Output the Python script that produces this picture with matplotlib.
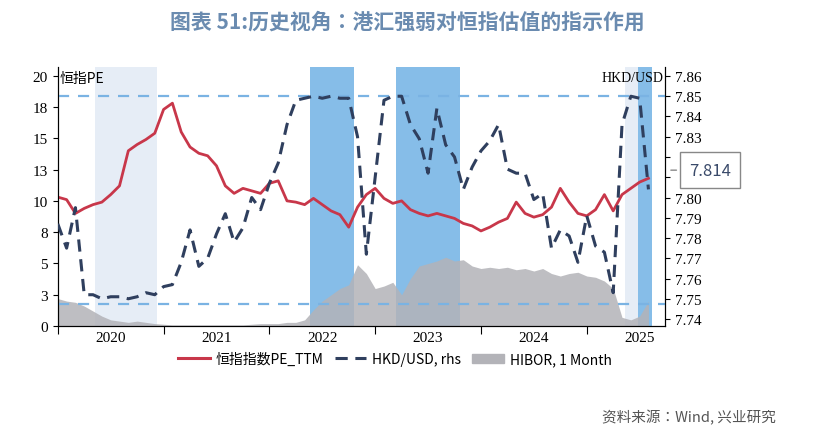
import matplotlib
matplotlib.use("Agg")
import matplotlib.pyplot as plt
from matplotlib import font_manager
from matplotlib.lines import Line2D
from matplotlib.patches import Patch

cands = ["Noto Sans CJK SC", "Noto Sans CJK JP", "Noto Sans CJK TC", "Noto Sans CJK KR"]
avail = {f.name for f in font_manager.fontManager.ttflist}
cjk = [c for c in cands if c in avail]
if not cjk:
    for f in font_manager.findSystemFonts():
        if "cjk" in f.lower():
            font_manager.fontManager.addfont(f)
    avail = {f.name for f in font_manager.fontManager.ttflist}
    cjk = [c for c in avail if "CJK" in c]
plt.rcParams["font.family"] = "sans-serif"
plt.rcParams["font.sans-serif"] = cjk + ["DejaVu Sans"]

# monthly data, Jan 2020 .. Aug 2025
months = [2020 + i / 12 for i in range(68)]
pe = [10.3,10.1,9.0,9.4,9.7,9.9,10.5,11.2,14.0,14.5,14.9,15.4,
      17.3,17.8,15.5,14.3,13.8,13.6,12.8,11.2,10.6,11.0,10.8,10.6,
      11.4,11.6,10.0,9.9,9.7,10.2,9.7,9.2,8.9,7.9,9.5,10.5,
      11.0,10.2,9.8,10.0,9.3,9.0,8.8,9.0,8.8,8.6,8.2,8.0,
      7.6,7.9,8.3,8.6,9.9,9.0,8.7,8.9,9.5,11.0,9.9,9.0,
      8.8,9.3,10.5,9.2,10.5,11.0,11.5,11.8]
hkd = [7.787,7.775,7.795,7.752,7.752,7.750,7.751,7.751,7.750,7.751,7.753,7.752,
       7.756,7.757,7.768,7.784,7.766,7.770,7.782,7.792,7.778,7.785,7.800,7.794,
       7.807,7.817,7.836,7.848,7.849,7.850,7.849,7.850,7.849,7.849,7.830,7.772,
       7.810,7.848,7.850,7.850,7.836,7.829,7.812,7.844,7.826,7.820,7.804,7.815,
       7.823,7.828,7.836,7.814,7.812,7.812,7.799,7.802,7.775,7.784,7.781,7.768,
       7.791,7.776,7.773,7.753,7.836,7.850,7.849,7.804]
hibor = [2.2,2.0,1.9,1.6,1.2,0.8,0.5,0.4,0.3,0.4,0.3,0.2,
         0.15,0.1,0.1,0.1,0.1,0.1,0.1,0.1,0.1,0.1,0.15,0.2,
         0.2,0.2,0.3,0.3,0.5,1.3,2.0,2.5,3.0,3.3,4.9,4.2,
         3.0,3.2,3.5,2.5,3.8,4.8,5.0,5.2,5.5,5.2,5.3,4.8,
         4.6,4.7,4.6,4.7,4.5,4.6,4.4,4.6,4.2,4.0,4.2,4.3,
         4.0,3.9,3.6,3.0,0.7,0.5,0.8,2.0]
light_spans = [(2020.35, 2020.94), (2025.36, 2025.48)]
blue_spans = [(2022.38, 2022.80), (2023.20, 2023.80), (2025.48, 2025.62)]
years = [2020, 2021, 2022, 2023, 2024, 2025]
left_ticks = [0, 2.5, 5, 7.5, 10, 12.5, 15, 17.5, 20]
left_labels = ["0", "3", "5", "8", "10", "13", "15", "18", "20"]
right_ticks = [7.74, 7.75, 7.76, 7.77, 7.78, 7.79, 7.80, 7.81, 7.82, 7.83, 7.84, 7.85, 7.86]
right_labels = ["7.74", "7.75", "7.76", "7.77", "7.78", "7.79", "7.80", "", "", "7.83", "7.84", "7.85", "7.86"]
last_hkd = "7.814"

fig = plt.figure(figsize=(8.14, 4.35), dpi=100)
ax = fig.add_axes([0.071, 0.248, 0.746, 0.596])
ax2 = ax.twinx()

for a, b in light_spans:
    ax.axvspan(a, b, color="#e6edf6", lw=0, zorder=0)
for a, b in blue_spans:
    ax.axvspan(a, b, color="#86bde8", lw=0, zorder=0)
ax.fill_between(months, hibor, color="#b3b3b8", alpha=0.85, lw=0, zorder=1)
ax.plot(months, pe, color="#c8374a", lw=2, zorder=3)
ax.set_ylim(0, 20.7)
ax.set_xlim(2020, 2025.74)
ax.set_yticks(left_ticks)
ax.set_yticklabels(left_labels, fontfamily="Liberation Serif", fontsize=11)
ax.set_xticks(years)
ax.set_xticklabels([])
ax.set_xticks([y + 0.5 for y in years], minor=True)
ax.set_xticklabels([str(y) for y in years], minor=True, fontfamily="Liberation Serif", fontsize=11)
ax.tick_params(axis="x", which="minor", length=0)
ax.tick_params(axis="x", which="major", length=6, direction="out")
ax.spines["top"].set_visible(False)
ax.text(0.003, 0.985, "恒指PE", transform=ax.transAxes, fontsize=10, va="top", ha="left")

ax2.axhline(7.85, color="#7ab3e3", ls=(0, (5, 4)), lw=1.6, zorder=2)
ax2.axhline(7.7474, color="#7ab3e3", ls=(0, (5, 4)), lw=1.6, zorder=2)
ax2.plot(months, hkd, color="#2f3f5e", lw=2.2, ls=(0, (4, 2.5)), zorder=4)
ax2.set_ylim(7.7365, 7.8645)
ax2.set_yticks(right_ticks)
ax2.set_yticklabels(right_labels, fontfamily="Liberation Serif", fontsize=11)
ax2.spines["top"].set_visible(False)
ax2.text(0.997, 0.985, "HKD/USD", transform=ax2.transAxes, fontsize=10, va="top", ha="right",
         fontfamily="Liberation Serif")
ax2.annotate(last_hkd, xy=(1.005, 7.8135), xycoords=("axes fraction", "data"),
             xytext=(15, 0), textcoords="offset points", va="center", ha="left",
             fontsize=12, color="#3a4a6a",
             bbox=dict(boxstyle="square,pad=0.55", fc="white", ec="#888888", lw=1),
             arrowprops=dict(arrowstyle="-", color="#888888", lw=1), annotation_clip=False)

handles = [Line2D([], [], color="#c8374a", lw=2.2),
           Line2D([], [], color="#2f3f5e", lw=2.2, ls=(0, (4, 2.5))),
           Patch(color="#b3b3b8")]
fig.legend(handles, ["恒指指数PE_TTM", "HKD/USD, rhs", "HIBOR, 1 Month"], loc="center",
           bbox_to_anchor=(0.485, 0.172), ncol=3, frameon=False, fontsize=10,
           handlelength=2.3, columnspacing=0.8, handletextpad=0.4)

fig.text(0.5, 0.95, "图表 51:历史视角：港汇强弱对恒指估值的指示作用", ha="center", va="center",
         fontsize=15, fontweight="bold", color="#6a8bb0")
fig.text(0.953, 0.04, "资料来源：Wind, 兴业研究", ha="right", va="center", fontsize=10.5, color="#555555")
fig.savefig("out.png", dpi=100)
